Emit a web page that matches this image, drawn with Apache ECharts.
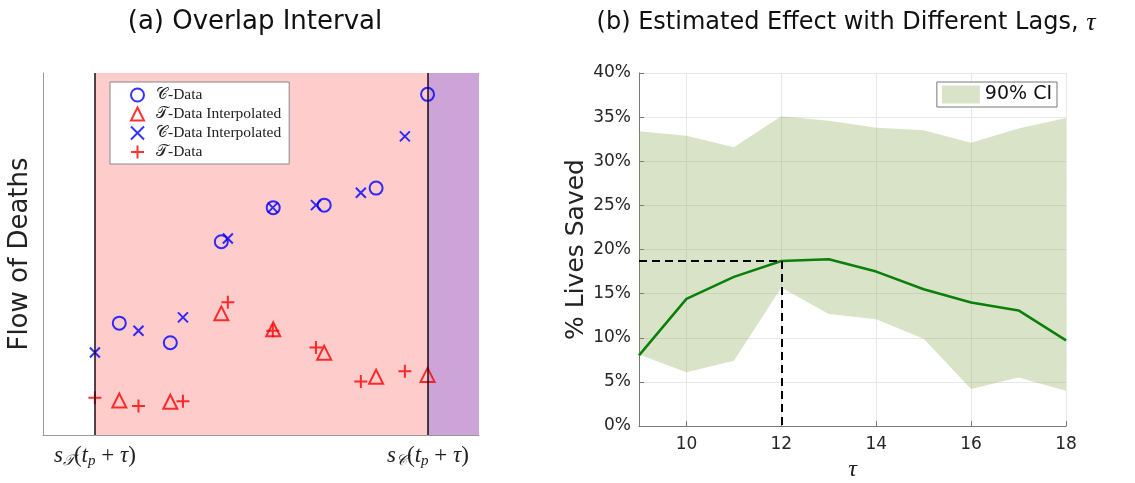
<!DOCTYPE html>
<html>
<head>
<meta charset="utf-8">
<script src="https://cdn.jsdelivr.net/npm/echarts@6/dist/echarts.min.js"></script>
<style>
  html, body { margin: 0; padding: 0; background: #fff; }
  #chart { width: 1135px; height: 483px; }
</style>
</head>
<body>
<div id="chart"></div>
<script>
// (a) overlap interval, x and y in arbitrary 0..100 units
const cDataX = [17.5, 29.2, 40.9, 52.8, 64.5, 76.4, 88.2];
const cData = [30.9, 25.5, 53.4, 62.8, 63.5, 68.2, 94.1];
const tInterp = [9.5, 9.2, 33.6, 29.2, 22.7, 16.1, 16.6];
const tDataX = [11.9, 21.9, 32.1, 42.4, 52.7, 62.6, 72.9, 83.0];
const cInterp = [22.8, 28.8, 32.5, 54.3, 62.8, 63.5, 66.9, 82.5];
const tData = [10.3, 8.0, 9.3, 36.7, 28.8, 24.2, 14.8, 17.6];
const sT = 11.9;
const sC = 88.3;

// (b) estimated effect vs lag
const lags = ['9', '10', '11', '12', '13', '14', '15', '16', '17', '18'];
const meanSaved = [8.0, 14.4, 16.9, 18.7, 18.9, 17.5, 15.5, 14.0, 13.1, 9.7];
const ciLow = [8.1, 6.1, 7.4, 15.7, 12.7, 12.1, 9.9, 4.2, 5.5, 4.0];
const ciHigh = [33.4, 32.9, 31.6, 35.1, 34.6, 33.8, 33.5, 32.1, 33.7, 34.9];
const chosenLag = 3; // index of tau = 12

const serif = "'Liberation Serif', 'DejaVu Serif', serif";
const sans = "'DejaVu Sans', sans-serif";
const pair = (xs, ys) => xs.map((x, i) => [x, ys[i]]);

const crossPath = 'path://M0,0L10,10M10,0L0,10';
const plusPath = 'path://M5,0L5,10M0,5L10,5';
const hollow = 'rgba(0,0,0,0)';

const subLabel = (sub) => ({
  show: true,
  position: 'start',
  distance: 8,
  color: '#222',
  formatter: '{i|s}{sub|' + sub + '}{n|(}{i|t}{p|p}{n| + }{i|τ}{n|)}',
  rich: {
    i: { fontFamily: serif, fontStyle: 'italic', fontSize: 23, lineHeight: 26, color: '#222' },
    n: { fontFamily: serif, fontSize: 23, lineHeight: 26, color: '#222' },
    sub: { fontFamily: serif, fontStyle: 'italic', fontSize: 15, lineHeight: 15, verticalAlign: 'bottom', color: '#222' },
    p: { fontFamily: serif, fontStyle: 'italic', fontSize: 15, lineHeight: 15, verticalAlign: 'bottom', color: '#222' }
  }
});

const chart = echarts.init(document.getElementById('chart'));
chart.setOption({
  animation: false,
  title: [
    { text: '(a) Overlap Interval', left: 250, top: 4, textAlign: 'center',
      textStyle: { fontFamily: sans, fontSize: 26, fontWeight: 'normal', color: '#111' } },
    { text: '(b) Estimated Effect with Different Lags, {t|τ}', left: 841, top: 5, textAlign: 'center',
      textStyle: { fontFamily: sans, fontSize: 24, fontWeight: 'normal', color: '#111',
        rich: { t: { fontFamily: serif, fontStyle: 'italic', fontSize: 26, color: '#111' } } } }
  ],
  legend: [
    {
      orient: 'vertical', left: 110, top: 82,
      padding: [5, 8, 4, 20], itemGap: 3, itemWidth: 13, itemHeight: 13,
      backgroundColor: '#fff', borderColor: '#888', borderWidth: 1,
      textStyle: { fontFamily: serif, fontSize: 15.5, color: '#222', padding: [0, 0, 0, 7] },
      data: ['𝒞-Data', '𝒯-Data Interpolated', '𝒞-Data Interpolated', '𝒯-Data']
    },
    {
      right: 78, top: 82,
      padding: [3, 5, 3, 5], itemWidth: 38, itemHeight: 18, itemGap: 6,
      backgroundColor: '#fff', borderColor: '#777', borderWidth: 1,
      textStyle: { fontFamily: sans, fontSize: 19, color: '#111' },
      data: [{ name: '90% CI', icon: 'rect' }]
    }
  ],
  grid: [
    { left: 43, top: 73, width: 436, height: 362, containLabel: false, outerBoundsMode: 'none' },
    { left: 639, top: 73, width: 427, height: 353, containLabel: false, outerBoundsMode: 'none' }
  ],
  xAxis: [
    {
      gridIndex: 0, type: 'value', min: 0, max: 100,
      axisLine: { lineStyle: { color: '#999', width: 1 } },
      axisTick: { show: false }, axisLabel: { show: false }, splitLine: { show: false }
    },
    {
      gridIndex: 1, type: 'category', data: lags, boundaryGap: false,
      name: 'τ', nameLocation: 'middle', nameGap: 30,
      nameTextStyle: { fontFamily: serif, fontStyle: 'italic', fontSize: 24, color: '#222' },
      axisLine: { lineStyle: { color: '#777', width: 1 } },
      axisTick: { inside: true, length: 5, interval: (i, v) => +v % 2 === 0, lineStyle: { color: '#777' } },
      axisLabel: { interval: (i, v) => +v % 2 === 0, fontFamily: sans, fontSize: 17, color: '#262626', margin: 10 },
      splitLine: { show: true, interval: (i, v) => +v % 2 === 0, lineStyle: { color: '#e8e8e8' } }
    }
  ],
  yAxis: [
    {
      gridIndex: 0, type: 'value', min: 0, max: 100,
      name: 'Flow of Deaths', nameLocation: 'middle', nameGap: 10,
      nameTextStyle: { fontFamily: sans, fontSize: 26, color: '#222' },
      axisLine: { show: true, lineStyle: { color: '#999', width: 1 } },
      axisTick: { show: false }, axisLabel: { show: false }, splitLine: { show: false }
    },
    {
      gridIndex: 1, type: 'value', min: 0, max: 40, interval: 5,
      name: '% Lives Saved', nameLocation: 'middle', nameGap: 48,
      nameTextStyle: { fontFamily: sans, fontSize: 25, color: '#222' },
      axisLine: { show: true, lineStyle: { color: '#777', width: 1 } },
      axisTick: { show: true, inside: true, length: 5, lineStyle: { color: '#777' } },
      axisLabel: { fontFamily: sans, fontSize: 17, color: '#262626', margin: 8, formatter: '{value}%' },
      splitLine: { show: true, lineStyle: { color: '#e8e8e8' } }
    }
  ],
  series: [
    {
      name: '𝒞-Data', type: 'scatter', xAxisIndex: 0, yAxisIndex: 0, z: 2,
      symbol: 'circle', symbolSize: 13,
      itemStyle: { color: hollow, borderColor: '#0000ff', borderWidth: 2 },
      data: pair(cDataX, cData)
    },
    {
      name: '𝒯-Data Interpolated', type: 'scatter', xAxisIndex: 0, yAxisIndex: 0, z: 2,
      symbol: 'triangle', symbolSize: 14,
      itemStyle: { color: hollow, borderColor: '#ff0000', borderWidth: 2 },
      data: pair(cDataX, tInterp)
    },
    {
      name: '𝒞-Data Interpolated', type: 'scatter', xAxisIndex: 0, yAxisIndex: 0, z: 2,
      symbol: crossPath, symbolSize: 10,
      itemStyle: { color: hollow, borderColor: '#0000ff', borderWidth: 2 },
      data: pair(tDataX, cInterp)
    },
    {
      name: '𝒯-Data', type: 'scatter', xAxisIndex: 0, yAxisIndex: 0, z: 2,
      symbol: plusPath, symbolSize: 13,
      itemStyle: { color: hollow, borderColor: '#ff0000', borderWidth: 2 },
      data: pair(tDataX, tData)
    },
    {
      // shaded overlap regions drawn over the markers
      type: 'scatter', xAxisIndex: 0, yAxisIndex: 0, z: 5, data: [],
      markArea: {
        silent: true,
        data: [
          [{ xAxis: sT, itemStyle: { color: 'rgba(255,0,0,0.2)' } }, { xAxis: 100 }],
          [{ xAxis: sC, itemStyle: { color: 'rgba(0,0,255,0.2)' } }, { xAxis: 100 }]
        ]
      }
    },
    {
      type: 'scatter', xAxisIndex: 0, yAxisIndex: 0, z: 6, data: [],
      markLine: {
        silent: true, symbol: 'none',
        lineStyle: { color: '#1a0a14', width: 1.5, type: 'solid' },
        data: [
          { xAxis: sT, label: subLabel('𝒯') },
          { xAxis: sC, label: subLabel('𝒞') }
        ]
      }
    },
    {
      type: 'line', xAxisIndex: 1, yAxisIndex: 1, stack: 'ci', z: 1,
      symbol: 'none', lineStyle: { width: 0 },
      data: ciLow
    },
    {
      name: '90% CI', type: 'line', xAxisIndex: 1, yAxisIndex: 1, stack: 'ci', z: 1,
      symbol: 'none', lineStyle: { width: 0 },
      itemStyle: { color: '#d9e3c8' },
      areaStyle: { color: 'rgba(128,162,72,0.3)', opacity: 1 },
      data: ciHigh.map((v, i) => +(v - ciLow[i]).toFixed(2))
    },
    {
      type: 'line', xAxisIndex: 1, yAxisIndex: 1, z: 3,
      symbol: 'none', lineStyle: { color: '#0a800a', width: 2.5 },
      data: meanSaved,
      markLine: {
        silent: true, symbol: 'none', label: { show: false },
        lineStyle: { color: '#000', width: 2, type: [8, 5] },
        data: [
          [{ coord: [0, meanSaved[chosenLag]] }, { coord: [chosenLag, meanSaved[chosenLag]] }],
          [{ coord: [chosenLag, meanSaved[chosenLag]] }, { coord: [chosenLag, 0] }]
        ]
      }
    }
  ]
});
</script>
</body>
</html>
